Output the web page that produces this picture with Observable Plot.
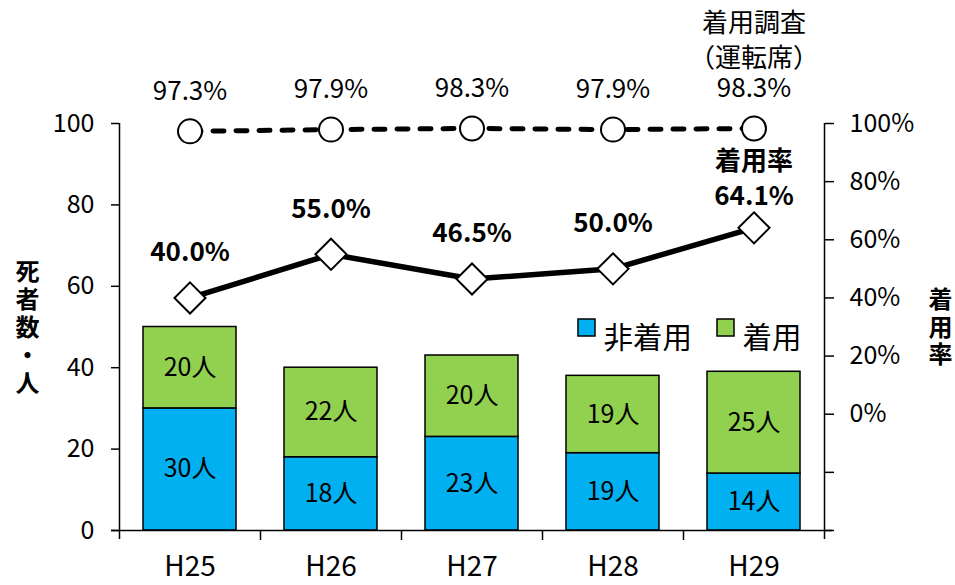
<!DOCTYPE html>
<html>
<head>
<meta charset="utf-8">
<script src="https://cdn.jsdelivr.net/npm/d3@7"></script>
<script src="https://cdn.jsdelivr.net/npm/@observablehq/plot@0.6"></script>
<style>
  html, body { margin: 0; padding: 0; background: #fff; }
</style>
</head>
<body>
<div id="chart"></div>
<script>
// ---- data ----
const years = ["H25", "H26", "H27", "H28", "H29"];
const seriesNames = ["非着用", "着用"];
const nonWearing = [30, 18, 23, 19, 14];   // 非着用 (人)
const wearing = [20, 22, 20, 19, 25];      // 着用 (人)
const wearRate = [40.0, 55.0, 46.5, 50.0, 64.1];     // 着用率 (%)
const surveyRate = [97.3, 97.9, 98.3, 97.9, 98.3];   // 着用調査（運転席）(%)
const countTicks = [0, 20, 40, 60, 80, 100];
const rateTicks = [-40, -20, 0, 20, 40, 60, 80, 100];
const countDomain = [0, 100];
const rateDomain = [-40, 100];
const leftTitle = "死\n者\n数\n・\n人";
const rightTitle = "着\n用\n率";
const surveyNote = "着用調査\n（運転席）";
const rateNote = "着用率";
const colors = ["#00B0F0", "#92D050"];

// ---- derived ----
const toLeft = r => (r - rateDomain[0]) * (countDomain[1] - countDomain[0]) / (rateDomain[1] - rateDomain[0]) + countDomain[0];
const fromLeft = v => (v - countDomain[0]) * (rateDomain[1] - rateDomain[0]) / (countDomain[1] - countDomain[0]) + rateDomain[0];

const bars = years.flatMap((year, i) => [
  {year, series: seriesNames[0], value: nonWearing[i]},
  {year, series: seriesNames[1], value: wearing[i]}
]);
const rates = years.map((year, i) => ({year, wear: wearRate[i], survey: surveyRate[i]}));

const W = 955, H = 585, ML = 119, MR = 131, MT = 123, MB = 55;
const step = (W - ML - MR) / years.length;
const frameH = H - MT - MB;
const font = '"Noto Sans CJK JP", "Noto Sans", sans-serif';

const legendMarks = seriesNames.flatMap((name, i) => [
  Plot.dot([name], {frameAnchor: "top-left", dx: 467 + i * 139, dy: 204, symbol: "square", r: 9.6, fill: colors[i], stroke: "#000", strokeWidth: 1.5}),
  Plot.text([name], {frameAnchor: "top-left", dx: 484 + i * 139, dy: 204, text: d => d, textAnchor: "start", fontSize: 29.5, fill: "#000"})
]);

const chart = Plot.plot({
  width: W, height: H,
  marginLeft: ML, marginRight: MR, marginTop: MT, marginBottom: MB,
  style: {fontFamily: font, fontSize: "25px", color: "#000", background: "#fff", overflow: "visible"},
  x: {domain: years, paddingInner: 0.34, paddingOuter: 0.17, axis: null, label: null},
  y: {domain: countDomain, axis: null, label: null},
  color: {domain: seriesNames, range: colors},
  marks: [
    // bars
    Plot.barY(bars, {x: "year", y: "value", fill: "series", stroke: "#000", strokeWidth: 1.5}),
    Plot.text(bars, Plot.stackY({x: "year", y: "value", text: d => d.value + "人", fontSize: 25, fill: "#000"})),
    // axes lines
    Plot.ruleY([0], {stroke: "#000", strokeWidth: 1.5, insetLeft: -8, insetRight: -8}),
    Plot.ruleX([years[0]], {x: d => d, dx: -step / 2, stroke: "#000", strokeWidth: 1.5, insetBottom: -9}),
    Plot.ruleX([years[years.length - 1]], {x: d => d, dx: step / 2, stroke: "#000", strokeWidth: 1.5, insetBottom: -9}),
    Plot.ruleX(years.slice(1), {x: d => d, dx: -step / 2, stroke: "#000", strokeWidth: 1.5, insetTop: frameH, insetBottom: -10}),
    Plot.axisY({anchor: "left", label: null, ticks: countTicks, tickSize: 8, tickPadding: 17, fontSize: 25, strokeWidth: 1.5}),
    Plot.axisY({anchor: "right", label: null, ticks: rateTicks.map(toLeft), tickFormat: v => { const r = Math.round(fromLeft(v)); return r >= 0 ? r + "%" : ""; }, tickSize: 9, tickPadding: 16, fontSize: 25, strokeWidth: 1.5}),
    Plot.axisX({anchor: "bottom", label: null, ticks: years, tickSize: 0, tickPadding: 26, fontSize: 28}),
    // axis titles
    Plot.text([leftTitle], {frameAnchor: "left", dx: -92, text: d => d, fontSize: 24, fontWeight: "bold", lineHeight: 1.16, textAnchor: "middle"}),
    Plot.text([rightTitle], {frameAnchor: "right", dx: 116, text: d => d, fontSize: 24, fontWeight: "bold", lineHeight: 1.15, textAnchor: "middle"}),
    // lines
    Plot.line(rates, {x: "year", y: d => toLeft(d.survey), stroke: "#000", strokeWidth: 5, strokeDasharray: "11,12", strokeLinecap: "round"}),
    Plot.line(rates, {x: "year", y: d => toLeft(d.wear), stroke: "#000", strokeWidth: 5.5}),
    Plot.dot(rates, {x: "year", y: d => toLeft(d.survey), r: 12, fill: "#fff", stroke: "#000", strokeWidth: 2}),
    Plot.dot(rates, {x: "year", y: d => toLeft(d.wear), symbol: "diamond2", r: 14, fill: "#fff", stroke: "#000", strokeWidth: 2}),
    // line labels
    Plot.text(rates, {x: "year", y: d => toLeft(d.survey), text: d => d.survey.toFixed(1) + "%", dy: -40, fontSize: 26, fill: "#000"}),
    Plot.text(rates.slice(-1), {x: "year", y: d => toLeft(d.survey), text: () => surveyNote, dy: -90, lineHeight: 1.35, fontSize: 26, fill: "#000"}),
    Plot.text(rates.slice(0, -1), {x: "year", y: d => toLeft(d.wear), text: d => d.wear.toFixed(1) + "%", dy: -45, fontSize: 26, fontWeight: "bold", fill: "#000"}),
    Plot.text(rates.slice(-1), {x: "year", y: d => toLeft(d.wear), text: d => d.wear.toFixed(1) + "%", dy: -31, fontSize: 26, fontWeight: "bold", fill: "#000"}),
    Plot.text(rates.slice(-1), {x: "year", y: d => toLeft(d.wear), text: () => rateNote, dy: -66, fontSize: 26, fontWeight: "bold", fill: "#000"}),
    ...legendMarks
  ]
});
document.getElementById("chart").appendChild(chart);
</script>
</body>
</html>
